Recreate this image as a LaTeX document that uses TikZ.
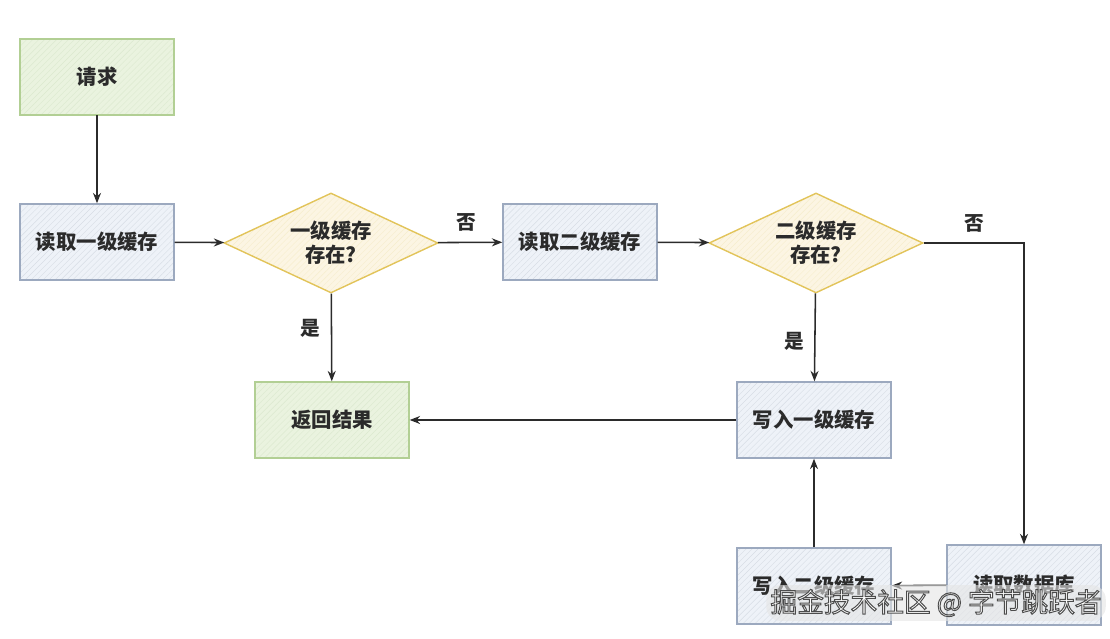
\documentclass[tikz,border=0pt]{standalone}
\usepackage{fontspec}
\setmainfont{Noto Sans CJK SC}
\usetikzlibrary{arrows.meta,calc,positioning,shapes.geometric,patterns.meta}
\definecolor{reqGreen}{HTML}{EAF3DF}
\definecolor{reqGreenLine}{HTML}{B2CF94}
\definecolor{stepBlue}{HTML}{EEF2F8}
\definecolor{stepBlueLine}{HTML}{9CA9BF}
\definecolor{askYellow}{HTML}{FCF5E3}
\definecolor{askYellowLine}{HTML}{E2C45A}
\definecolor{inkDark}{HTML}{2B2B2B}
% outlined white text for the watermark
\newcommand\outlinetext[1]{\color{white}\special{pdf:literal direct 0.3 0.3 0.3 RG 0.7 w 2 Tr}#1\special{pdf:literal direct 0 Tr}}
\tikzset{
  basebox/.style={rectangle,minimum width=3.85cm,minimum height=1.9cm,line width=1pt,
    font=\fontsize{14.5}{17}\selectfont\bfseries,text=inkDark,align=center},
  greenbox/.style={basebox,draw=reqGreenLine,preaction={fill=reqGreen},
    pattern={Lines[angle=45,distance=3pt,line width=0.3pt]},pattern color=reqGreenLine!45},
  bluebox/.style={basebox,draw=stepBlueLine,preaction={fill=stepBlue},
    pattern={Lines[angle=45,distance=3pt,line width=0.3pt]},pattern color=stepBlueLine!40},
  decision/.style={diamond,aspect=2.1,inner sep=1pt,minimum width=5.35cm,minimum height=2.5cm,
    line width=1pt,draw=askYellowLine,preaction={fill=askYellow},
    pattern={Lines[angle=45,distance=3pt,line width=0.3pt]},pattern color=askYellowLine!30,
    font=\fontsize{14.5}{17}\selectfont\bfseries,text=inkDark,align=center},
  flow/.style={-{Stealth[length=2.6mm,width=2mm]},line width=1.1pt,inkDark},
  lbl/.style={font=\fontsize{14}{16}\selectfont\bfseries,text=inkDark}
}

\begin{document}
\begin{tikzpicture}
  \useasboundingbox (0,0) rectangle (27.75,15.975);
  % main row
  \node[greenbox] (req) at (2.425,14.05) {请求};
  \node[bluebox] (read1) at (2.425,9.925) {读取一级缓存};
  \node[decision] (ask1) at (8.275,9.9) {一级缓存\\存在?};
  \node[bluebox] (read2) at (14.5,9.925) {读取二级缓存};
  \node[decision] (ask2) at (20.4,9.9) {二级缓存\\存在?};
  % lower rows
  \node[greenbox] (ret) at (8.3,5.475) {返回结果};
  \node[bluebox] (write1) at (20.35,5.475) {写入一级缓存};
  \node[bluebox] (write2) at (20.35,1.325) {写入二级缓存};
  \node[bluebox,minimum height=2cm] (db) at (25.6,1.35) {读取数据库};
  % arrows
  \draw[flow] (req) -- (read1);
  \draw[flow] (read1) -- (ask1);
  \draw[flow] (ask1) -- node[lbl,above=4pt,pos=.45] (no1) {否} (read2);
  \draw[flow] (read2) -- (ask2);
  \draw[flow] (ask1) -- node[lbl,left=4pt,pos=.4] (yes1) {是} (ret);
  \draw[flow] (ask2) -- node[lbl,left=4pt,pos=.55] (yes2) {是} (write1);
  \draw[flow] (ask2.east) -| node[lbl,above=4pt,pos=.25] (no2) {否} (db.north);
  \draw[flow] (db) -- (write2);
  \draw[flow] (write2) -- (write1);
  \draw[flow] (write1) -- (ret);
  % watermark
  \node[fill=gray!20,fill opacity=.6,text opacity=1,rounded corners=10pt,inner sep=3pt,
    font=\fontsize{19}{22}\selectfont] (mark) at (23.4,0.9)
    {\outlinetext{掘金技术社区 @ 字节跳跃者}};
\end{tikzpicture}
\end{document}
